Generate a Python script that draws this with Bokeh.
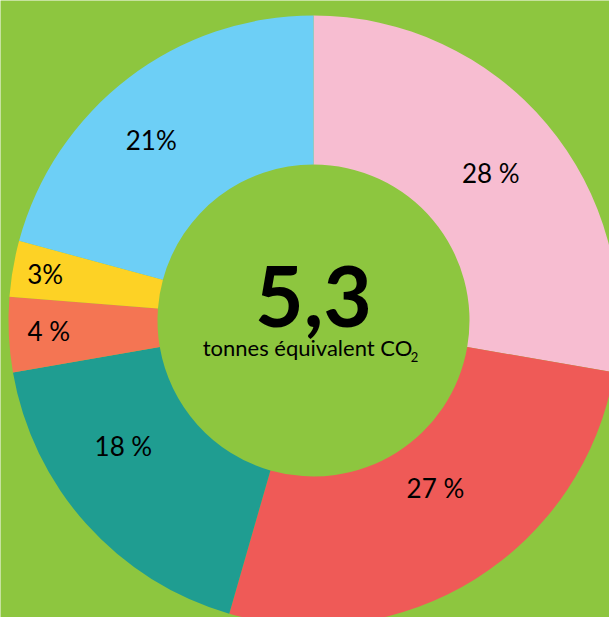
import math
from bokeh.plotting import figure
from bokeh.models import ColumnDataSource
from bokeh.core.properties import value
from bokeh.embed import file_html
from bokeh.resources import INLINE

# Data
categories = ["Rose", "Rouge", "Sarcelle", "Corail", "Jaune", "Bleu"]
percents = [28, 27, 18, 4, 3, 21]
labels = ["28 %", "27 %", "18 %", "4 %", "3%", "21%"]
colors = ["#F7BDD1", "#EF5A57", "#1F9D91", "#F47553", "#FDD225", "#6DCFF6"]
total_label = "5,3"
unit_label = "tonnes équivalent CO"

BG = "#8DC63F"
W, H = 609, 617
cx, cy = 313, 297
r_out, r_in = 305, 156

total = sum(percents)
starts, ends, mids = [], [], []
acc = 0.0
for v in percents:
    a0 = math.pi / 2 - 2 * math.pi * acc / total
    acc += v
    a1 = math.pi / 2 - 2 * math.pi * acc / total
    starts.append(a0)
    ends.append(a1)
    mids.append((a0 + a1) / 2)

src = ColumnDataSource(dict(start=starts, end=ends, color=colors, cat=categories))

p = figure(width=W, height=H, x_range=(0, W), y_range=(0, H),
           output_backend="svg", toolbar_location=None, min_border=0)
p.axis.visible = False
p.grid.visible = False
p.outline_line_color = None
p.background_fill_color = BG
p.border_fill_color = BG

p.annular_wedge(x=cx, y=cy, inner_radius=r_in, outer_radius=r_out,
                start_angle="start", end_angle="end", direction="clock",
                fill_color="color", line_color=None, source=src)

# label placement (radius, angle nudge in degrees)
lab_r = [229, 209, 229, 265, 272, 241]
lab_da = [-0.8, 3.6, -8, 0, 0.3, 4.9]
lx = [cx + r * math.cos(m + math.radians(d)) for r, m, d in zip(lab_r, mids, lab_da)]
ly = [cy + 2 + r * math.sin(m + math.radians(d)) for r, m, d in zip(lab_r, mids, lab_da)]
p.text(x=lx, y=ly, text=labels,
       text_font=value("Lato"), text_font_size="26px",
       text_align="center", text_baseline="middle", text_color="#000000")

p.text(x=[cx], y=[cy + 24], text=[total_label], text_font=value("Lato"),
       text_font_style="bold",
       text_font_size="84px", text_align="center", text_baseline="middle",
       text_color="#000000")
p.text(x=[cx - 6], y=[cy - 27], text=[unit_label], text_font=value("Lato"),
       text_font_size="22px", text_align="center", text_baseline="middle",
       text_color="#000000")
p.text(x=[cx + 101], y=[cy - 36], text=["2"], text_font=value("Lato"),
       text_font_size="13px", text_align="center", text_baseline="middle",
       text_color="#000000")

open("out.html", "w").write(file_html(p, INLINE))
